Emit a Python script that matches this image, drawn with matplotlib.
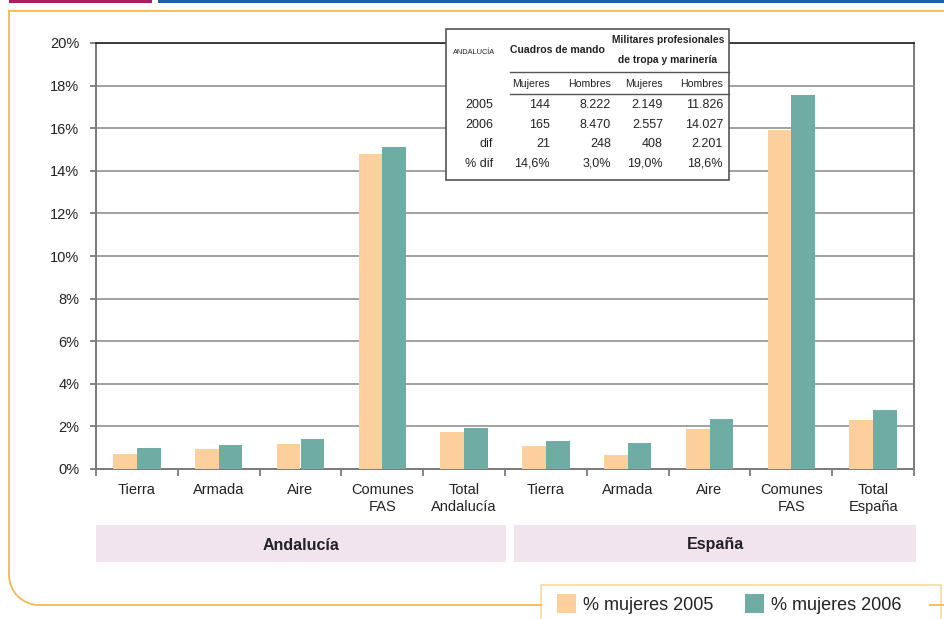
import numpy as np
import matplotlib.pyplot as plt
from matplotlib.patches import Rectangle, Arc
from matplotlib.lines import Line2D

plt.rcParams['font.family'] = ['Liberation Sans', 'DejaVu Sans']

# datos
categorias = ["Tierra", "Armada", "Aire", "Comunes\nFAS", "Total\nAndalucía",
              "Tierra", "Armada", "Aire", "Comunes\nFAS", "Total\nEspaña"]
mujeres_2005 = [0.69, 0.92, 1.16, 14.79, 1.72, 1.06, 0.64, 1.86, 15.91, 2.28]
mujeres_2006 = [0.97, 1.11, 1.39, 15.11, 1.91, 1.30, 1.20, 2.37, 17.55, 2.75]
regiones = ["Andalucía", "España"]
serie_labels = ["% mujeres 2005", "% mujeres 2006"]

# tabla de Andalucia
tabla_filas = ["2005", "2006", "dif", "% dif"]
tabla_sub = ["Mujeres", "Hombres", "Mujeres", "Hombres"]
tabla_vals = [["144", "8.222", "2.149", "11.826"],
              ["165", "8.470", "2.557", "14.027"],
              ["21", "248", "408", "2.201"],
              ["14,6%", "3,0%", "19,0%", "18,6%"]]

c2005 = "#FDCF9C"
c2006 = "#6FADA4"

W, H = 945, 619
fig = plt.figure(figsize=(W / 100, H / 100), dpi=100)
ax = fig.add_axes([96 / W, 1 - 469 / H, (914 - 96) / W, (469 - 43) / H])

x = np.arange(len(categorias))
bw = 0.29
ax.bar(x - bw / 2, mujeres_2005, bw, color=c2005, zorder=3)
ax.bar(x + bw / 2, mujeres_2006, bw, color=c2006, zorder=3)

ax.set_xlim(-0.5, len(categorias) - 0.5)
ax.set_ylim(0, 20)
ax.set_yticks(np.arange(0, 21, 2))
ax.set_yticklabels([f"{v}%" for v in range(0, 21, 2)], fontsize=10.5, color="#222222")
ax.yaxis.grid(True, color="#9A9A9A", lw=1.3, zorder=0)
ax.set_xticks(np.arange(-0.5, len(categorias), 1))
ax.set_xticklabels([])
ax.set_xticks(x, minor=True)
ax.set_xticklabels(categorias, minor=True, fontsize=10.5, color="#222222", linespacing=1.3)
ax.tick_params(axis="x", which="major", length=5, width=1.2, color="#707070")
ax.tick_params(axis="x", which="minor", length=0, pad=10)
ax.tick_params(axis="y", length=4, width=1.2, color="#707070", pad=8)
for s in ["left", "right", "bottom"]:
    ax.spines[s].set_color("#7A7A7A")
    ax.spines[s].set_linewidth(1.4)
ax.spines["top"].set_color("#222222")
ax.spines["top"].set_linewidth(1.2)

# capa de decoracion en pixeles
ov = fig.add_axes([0, 0, 1, 1], zorder=5)
ov.set_xlim(0, W)
ov.set_ylim(H, 0)
ov.axis("off")
ov.patch.set_alpha(0)

# marco
ov.add_patch(Rectangle((9, 0), 143, 3, color="#A3215E", lw=0))
ov.add_patch(Rectangle((158, 0), W - 158, 3, color="#1B63A0", lw=0))
orange = "#F5B94F"
ov.add_line(Line2D([9, W], [11, 11], color=orange, lw=1.3))
ov.add_line(Line2D([9, 9], [11, 575], color=orange, lw=1.3))
ov.add_patch(Arc((39, 575), 60, 60, theta1=90, theta2=180, color=orange, lw=1.3))
ov.add_line(Line2D([39, 541], [605, 605], color=orange, lw=1.3))
ov.add_line(Line2D([930, W], [605, 605], color=orange, lw=1.3))

# bandas de region
bandas = [(96, 506), (514, 916)]
for (x0, x1), reg in zip(bandas, regiones):
    ov.add_patch(Rectangle((x0, 525), x1 - x0, 37, color="#F2E4EC", lw=0))
    ov.text((x0 + x1) / 2, 545, reg, ha="center", va="center", fontsize=11.5,
            fontweight="bold", color="#222222")

# leyenda
ov.add_patch(Rectangle((541, 585), 400, 40, facecolor="white", edgecolor="#F8D9A0", lw=1.2))
for px, col, lab in zip([557, 745], [c2005, c2006], serie_labels):
    ov.add_patch(Rectangle((px, 594), 19, 19, color=col, lw=0))
    ov.text(px + 26, 605, lab, ha="left", va="center", fontsize=13, color="#222222")

# tabla
ov.add_patch(Rectangle((446, 29), 283, 151, facecolor="white", edgecolor="#555555", lw=1.2))
ov.add_line(Line2D([510, 729], [72, 72], color="#555555", lw=1.0))
ov.add_line(Line2D([510, 729], [94, 94], color="#555555", lw=1.0))
ov.text(474, 53, "ANDALUCÍA", ha="center", va="center", fontsize=5.3, color="#222222")
ov.text(557, 50, "Cuadros de mando", ha="center", va="center", fontsize=7.6,
        fontweight="bold", color="#222222")
ov.text(668, 40, "Militares profesionales", ha="center", va="center", fontsize=7.4,
        fontweight="bold", color="#222222")
ov.text(668, 60, "de tropa y marinería", ha="center", va="center", fontsize=7.4,
        fontweight="bold", color="#222222")
col_x = [550, 611, 663, 723]
for cx, t in zip(col_x, tabla_sub):
    ov.text(cx, 84, t, ha="right", va="center", fontsize=7.6, color="#222222")
fila_y = [105, 125, 144, 164]
for fy, fil, vals in zip(fila_y, tabla_filas, tabla_vals):
    ov.text(493, fy, fil, ha="right", va="center", fontsize=9, color="#222222")
    for cx, v in zip(col_x, vals):
        ov.text(cx, fy, v, ha="right", va="center", fontsize=9, color="#222222")

fig.savefig("out.png", dpi=100)
